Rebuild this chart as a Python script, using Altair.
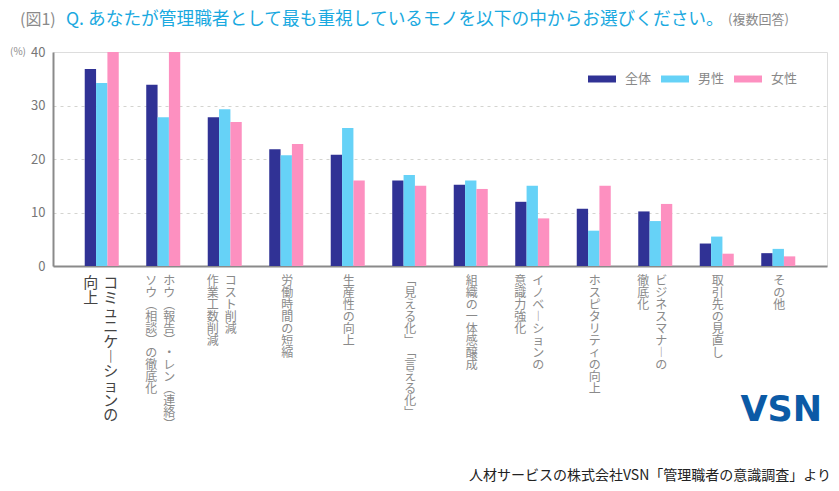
import altair as alt
import pandas as pd

# ---- data ----
label_columns = [
    ["コミュニケーションの", "向上"],
    ["ホウ(報告)・レン(連絡)", "ソウ(相談)の徹底化"],
    ["コスト削減", "作業工数削減"],
    ["労働時間の短縮"],
    ["生産性の向上"],
    ["「見える化」「言える化」"],
    ["組織の一体感醸成"],
    ["イノベーションの", "意識力強化"],
    ["ホスピタリティの向上"],
    ["ビジネスマナーの", "徹底化"],
    ["取引先の見直し"],
    ["その他"],
]
series = ["全体", "男性", "女性"]
colors = ["#303295", "#66d2f7", "#fd90c0"]
v_all = [36.8, 33.9, 27.8, 21.8, 20.8, 16.0, 15.2, 12.0, 10.7, 10.2, 4.2, 2.4]
v_male = [34.2, 27.8, 29.3, 20.7, 25.8, 17.0, 16.0, 15.0, 6.6, 8.4, 5.5, 3.2]
v_female = [40.0, 40.0, 26.9, 22.8, 16.0, 15.0, 14.4, 8.9, 15.0, 11.6, 2.3, 1.8]
y_ticks = [0, 10, 20, 30, 40]

title_fig = "(図1)"
title_q = "Q. あなたが管理職者として最も重視しているモノを以下の中からお選びください。"
title_note = "(複数回答)"
source_text = "人材サービスの株式会社VSN「管理職者の意識調査」より"
logo_text = "VSN"

# ---- tables ----
categories = ["".join(c) for c in label_columns]
rows = []
for s, vals in zip(series, [v_all, v_male, v_female]):
    for c, v in zip(categories, vals):
        rows.append({"category": c, "series": s, "value": v})
df = pd.DataFrame(rows)

vmap = {"ー": "︱", "(": "︵", ")": "︶", "「": "﹁", "」": "﹂"}


def vertical(s):
    return "\n".join(vmap.get(ch, ch) for ch in s)


lab_rows = []
for i, cols in enumerate(label_columns):
    for j, t in enumerate(cols):
        lab_rows.append({"category": categories[i], "col": j, "ncols": len(cols),
                         "emph": 1 if i == 0 else 0, "text": vertical(t)})
ldf = pd.DataFrame(lab_rows)

W, H = 774, 214
FONT = "Noto Sans CJK JP"

xenc = alt.X("category:N", sort=categories,
             scale=alt.Scale(paddingInner=0.447, paddingOuter=0.516),
             axis=alt.Axis(labels=False, ticks=False, title=None, grid=False,
                           domainColor="#8a8a8a", domainWidth=2))

bars = alt.Chart(df).mark_bar().encode(
    x=xenc,
    xOffset=alt.XOffset("series:N", sort=series,
                        scale=alt.Scale(paddingInner=0, paddingOuter=0)),
    y=alt.Y("value:Q", scale=alt.Scale(domain=[0, 40], nice=False),
            axis=alt.Axis(values=y_ticks, title=None, ticks=False,
                          domainColor="#8a8a8a", domainWidth=2,
                          labelPadding=8, labelColor="#777777", labelFontSize=13,
                          labelFont=FONT,
                          gridDash=[3, 4], gridColor="#d4d4d0",
                          gridOpacity={"condition": {"test": "datum.value === 40 || datum.value === 0", "value": 0}, "value": 1})),
    color=alt.Color("series:N", sort=series,
                    scale=alt.Scale(domain=series, range=colors),
                    legend=alt.Legend(orient="none", legendX=535, legendY=20,
                                      direction="horizontal", title=None,
                                      symbolType="M-1,-0.5H3V0.5H-1Z", symbolSize=196,
                                      symbolStrokeWidth=0, labelOffset=23,
                                      columnPadding=9, labelColor="#888888",
                                      labelFontSize=13, labelFont=FONT, padding=0)),
)

legend_box = alt.Chart(alt.Data(values=[{}])).mark_rect(color="white").encode(
    x=alt.value(519), x2=alt.value(755), y=alt.value(17), y2=alt.value(39))


def label_layer(cond, dx, size, color, lh):
    return alt.Chart(ldf).transform_filter(cond).mark_text(
        baseline="top", align="center", dx=dx, fontSize=size, color=color,
        lineBreak="\n", lineHeight=lh, font=FONT).encode(
        x=alt.X("category:N", sort=categories), y=alt.value(H + 10), text="text:N")


labels = [
    label_layer("datum.emph == 1 && datum.col == 0", 9, 15, "#444444", 14.7),
    label_layer("datum.emph == 1 && datum.col == 1", -11, 15, "#444444", 14.7),
    label_layer("datum.emph == 0 && datum.ncols == 1", 1, 12, "#8a8a8a", 12),
    label_layer("datum.emph == 0 && datum.ncols == 2 && datum.col == 0", 6, 12, "#8a8a8a", 12),
    label_layer("datum.emph == 0 && datum.ncols == 2 && datum.col == 1", -12, 12, "#8a8a8a", 12),
]


def annot(text, x, y, size, color, align="left", weight="normal", font=FONT):
    return alt.Chart(alt.Data(values=[{}])).mark_text(
        text=text, align=align, baseline="middle", fontSize=size, color=color,
        fontWeight=weight, font=font).encode(x=alt.value(x), y=alt.value(y))


texts = [
    annot(title_fig, -33, -32.5, 16, "#8a8a8a"),
    annot(title_q, 13, -32.5, 17.7, "#1aa9e0"),
    annot(title_note, 675, -32, 13, "#8a8a8a"),
    annot("(%)", -43, 0, 10, "#8a8a8a"),
    annot(logo_text, 769, 358, 35, "#0b5aa6", align="right", weight="bold",
          font="DejaVu Sans"),
    annot(source_text, 778, 424, 14, "#222222", align="right"),
]

chart = alt.layer(legend_box, bars, *labels, *texts).properties(
    width=W, height=H,
    padding={"left": 45, "top": 44, "right": 4, "bottom": 217},
    autosize=alt.AutoSizeParams(type="none"),
).configure_view(fill="#fdfcf2", strokeWidth=0).configure(background="white")

chart.save("out.html", embed_options={"renderer": "svg", "actions": False})
